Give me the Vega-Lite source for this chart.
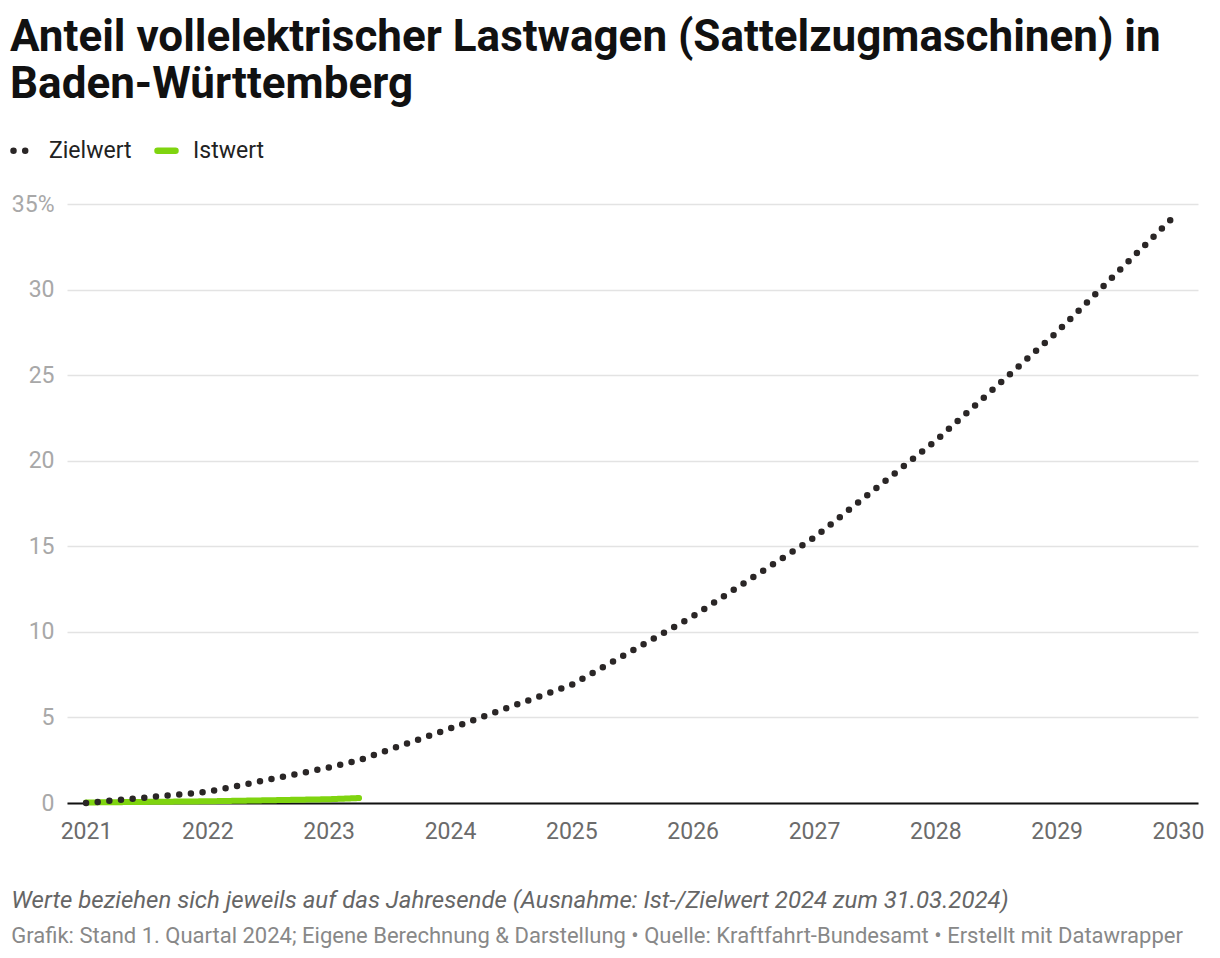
{
  "$schema": "https://vega.github.io/schema/vega-lite/v6.json",
  "background": "white",
  "padding": {"left": 10, "top": 16, "right": 10, "bottom": 5},
  "config": {
    "font": "Roboto",
    "view": {"stroke": null},
    "concat": {"spacing": 0}
  },
  "title": {
    "text": ["Anteil vollelektrischer Lastwagen (Sattelzugmaschinen) in", "Baden-Württemberg"],
    "anchor": "start",
    "font": "Roboto",
    "fontSize": 44,
    "fontWeight": "bold",
    "lineHeight": 47,
    "color": "#111111",
    "offset": 31
  },
  "vconcat": [
    {
      "width": 1131,
      "height": 599,
      "title": {
        "text": "Werte beziehen sich jeweils auf das Jahresende (Ausnahme: Ist-/Zielwert 2024 zum 31.03.2024)",
        "subtitle": "Grafik: Stand 1. Quartal 2024; Eigene Berechnung & Darstellung • Quelle: Kraftfahrt-Bundesamt • Erstellt mit Datawrapper",
        "orient": "bottom",
        "anchor": "start",
        "frame": "bounds",
        "font": "Roboto",
        "fontSize": 24,
        "fontStyle": "italic",
        "fontWeight": "normal",
        "color": "#666666",
        "subtitleFont": "Roboto",
        "subtitleFontSize": 22,
        "subtitleColor": "#888888",
        "subtitlePadding": 13,
        "offset": 46
      },
      "data": {
        "values": [
          {"jahr": 2021, "serie": "Istwert", "wert": 0.03},
          {"jahr": 2022, "serie": "Istwert", "wert": 0.1},
          {"jahr": 2023, "serie": "Istwert", "wert": 0.22},
          {"jahr": 2023.25, "serie": "Istwert", "wert": 0.29},
          {"jahr": 2021, "serie": "Zielwert", "wert": 0},
          {"jahr": 2022, "serie": "Zielwert", "wert": 0.65},
          {"jahr": 2023, "serie": "Zielwert", "wert": 2.07},
          {"jahr": 2023.25, "serie": "Zielwert", "wert": 2.5},
          {"jahr": 2024, "serie": "Zielwert", "wert": 4.35},
          {"jahr": 2025, "serie": "Zielwert", "wert": 6.9},
          {"jahr": 2026, "serie": "Zielwert", "wert": 10.9},
          {"jahr": 2027, "serie": "Zielwert", "wert": 15.5},
          {"jahr": 2028, "serie": "Zielwert", "wert": 21.15},
          {"jahr": 2029, "serie": "Zielwert", "wert": 27.5},
          {"jahr": 2030, "serie": "Zielwert", "wert": 34.5}
        ]
      },
      "encoding": {
        "x": {
          "field": "jahr",
          "type": "quantitative",
          "scale": {"domain": [2020.843, 2030.165], "nice": false, "zero": false},
          "axis": {
            "title": null,
            "values": [2021, 2022, 2023, 2024, 2025, 2026, 2027, 2028, 2029, 2030],
            "format": "d",
            "grid": false,
            "ticks": false,
            "domain": true,
            "domainColor": "#111111",
            "domainWidth": 2,
            "labelFont": "Roboto",
            "labelFontSize": 23,
            "labelColor": "#6b6b6b",
            "labelPadding": 17,
            "labelFlush": false
          }
        },
        "y": {
          "field": "wert",
          "type": "quantitative",
          "scale": {"domain": [0, 35], "nice": false},
          "axis": {
            "title": null,
            "values": [0, 5, 10, 15, 20, 25, 30, 35],
            "labelExpr": "datum.value == 35 ? '35%' : datum.label",
            "grid": true,
            "gridColor": "#e3e3e3",
            "gridWidth": 1.5,
            "domain": false,
            "ticks": false,
            "labelFont": "Roboto",
            "labelFontSize": 23,
            "labelColor": "#a8a8a8",
            "labelPadding": 13
          }
        },
        "color": {
          "field": "serie",
          "type": "nominal",
          "scale": {"domain": ["Zielwert", "Istwert"], "range": ["#2a2626", "#7fd40f"]},
          "legend": {
            "title": null,
            "orient": "none",
            "legendX": -57,
            "legendY": -66,
            "direction": "horizontal",
            "symbolType": "stroke",
            "symbolStrokeWidth": 6.5,
            "symbolSize": 324,
            "labelFont": "Roboto",
            "labelFontSize": 23,
            "labelColor": "#222222",
            "labelOffset": 14,
            "columnPadding": 12,
            "encode": {"symbols": {"update": {"strokeCap": {"value": "round"}}}}
          }
        },
        "strokeDash": {
          "field": "serie",
          "type": "nominal",
          "scale": {"domain": ["Zielwert", "Istwert"], "range": [[0, 11.7], [1, 0]]},
          "legend": {
            "title": null,
            "orient": "none",
            "legendX": -57,
            "legendY": -66,
            "direction": "horizontal",
            "symbolType": "stroke",
            "symbolStrokeWidth": 6.5,
            "symbolSize": 324,
            "labelFont": "Roboto",
            "labelFontSize": 23,
            "labelColor": "#222222",
            "labelOffset": 14,
            "columnPadding": 12,
            "encode": {"symbols": {"update": {"strokeCap": {"value": "round"}}}}
          }
        }
      },
      "layer": [
        {
          "transform": [{"filter": "datum.serie == 'Istwert'"}],
          "mark": {"type": "line", "strokeWidth": 6, "strokeCap": "round", "strokeJoin": "round", "clip": false}
        },
        {
          "transform": [{"filter": "datum.serie == 'Zielwert'"}],
          "mark": {"type": "line", "strokeWidth": 6.5, "strokeCap": "round", "strokeJoin": "round", "clip": false}
        }
      ]
    }
  ]
}
